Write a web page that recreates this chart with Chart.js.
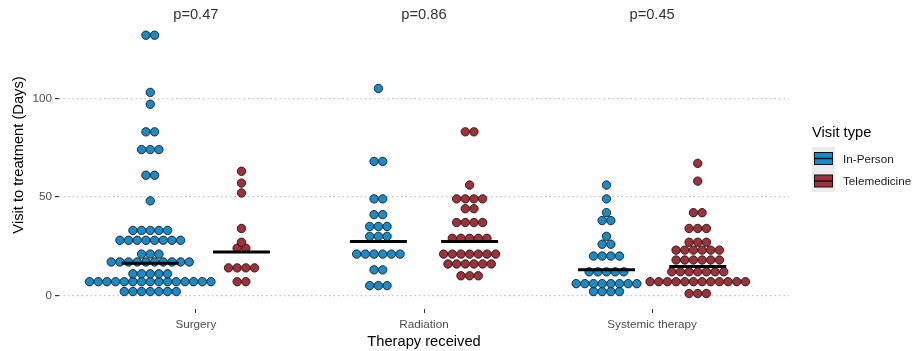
<!DOCTYPE html>
<html>
<head>
<meta charset="utf-8">
<script src="https://cdn.jsdelivr.net/npm/chart.js@4.4.0/dist/chart.umd.min.js"></script>
<style>
  html, body { margin: 0; padding: 0; background: #fff; }
</style>
</head>
<body>
<canvas id="chart" width="917" height="351"></canvas>
<script>
const categories = ['Surgery', 'Radiation', 'Systemic therapy'];
const visitTypes = ['In-Person', 'Telemedicine'];
const pLabels = ['p=0.47', 'p=0.86', 'p=0.45'];
const yTicks = [0, 50, 100];

// days from visit to treatment, one entry per patient
const surgeryInPerson = [132, 132, 103, 97, 83, 83, 74, 74, 74, 61, 61, 48,
  33, 33, 33, 33, 33,
  28, 28, 28, 28, 28, 28, 28, 28,
  21, 21, 21,
  17, 17, 17, 17, 17, 17, 17, 17, 17, 17,
  11, 11, 11, 11, 11,
  7, 7, 7, 7, 7, 7, 7, 7, 7, 7, 7, 7, 7, 7, 7,
  2, 2, 2, 2, 2, 2, 2];
const surgeryTele = [63, 57, 52, 34, 27, 24, 24, 14, 14, 14, 14, 7, 7];
const radiationInPerson = [105, 68, 68, 49, 49, 41, 41, 35, 35, 35, 30, 30, 30,
  21, 21, 21, 21, 21, 21, 13, 13, 5, 5, 5];
const radiationTele = [83, 83, 56, 49, 49, 49, 49, 44, 44, 37, 37, 37, 37,
  29, 29, 29, 29, 29,
  21, 21, 21, 21, 21, 21, 21,
  16, 16, 16, 16, 16, 16,
  10, 10, 10];
const systemicInPerson = [56, 49, 42, 38, 38, 30, 26, 26, 20, 20, 20, 20,
  12, 12, 12, 12, 12,
  6, 6, 6, 6, 6, 6, 6, 6,
  2, 2, 2, 2];
const systemicTele = [67, 58, 42, 42, 34, 34, 34, 27, 27, 27,
  23, 23, 23, 23, 23, 23,
  18, 18, 18, 18, 18, 18,
  12, 12, 12, 12, 12, 12, 12,
  7, 7, 7, 7, 7, 7, 7, 7, 7, 7, 7, 7,
  1, 1, 1];

const inPersonMedians = [16.3, 27.4, 13];
const teleMedians = [22, 27.4, 14.7];

const BLUE = '#1a8bc9';
const RED = '#a0313a';
const dodge = 0.2;      // x-units between category centre and group centre
const dotStep = 0.038;  // x-units between neighbouring dots in a row
const barHalf = 0.125;  // half width of the median bar
const FONT = '"Liberation Sans", Arial, sans-serif';

Chart.defaults.font.family = FONT;

// centre-stacked dot rows, one row per distinct value
function swarm(values, center) {
  const counts = {};
  values.forEach(v => { counts[v] = (counts[v] || 0) + 1; });
  const pts = [];
  Object.keys(counts).forEach(k => {
    const n = counts[k];
    for (let i = 0; i < n; i++) {
      pts.push({ x: center + (i - (n - 1) / 2) * dotStep, y: Number(k) });
    }
  });
  return pts;
}

function medianBars(medians, shift) {
  const pts = [];
  medians.forEach((m, i) => {
    const c = i + 1 + shift;
    pts.push({ x: c - barHalf, y: m }, { x: c + barHalf, y: m }, { x: c + barHalf + 0.01, y: null });
  });
  return pts;
}

const inPersonDots = [].concat(
  swarm(surgeryInPerson, 1 - dodge),
  swarm(radiationInPerson, 2 - dodge),
  swarm(systemicInPerson, 3 - dodge));
const teleDots = [].concat(
  swarm(surgeryTele, 1 + dodge),
  swarm(radiationTele, 2 + dodge),
  swarm(systemicTele, 3 + dodge));

const extras = {
  id: 'extras',
  afterDraw(chart) {
    const { ctx, scales: { x, y } } = chart;
    ctx.save();
    // p values above each category
    ctx.fillStyle = '#333';
    ctx.font = '14.7px ' + FONT;
    ctx.textAlign = 'center';
    ctx.textBaseline = 'middle';
    pLabels.forEach((t, i) => ctx.fillText(t, x.getPixelForValue(i + 1), y.getPixelForValue(142.2)));

    // legend
    const lx = 812;
    ctx.textAlign = 'left';
    ctx.fillStyle = '#000';
    ctx.fillText('Visit type', lx, 133);
    ctx.fillStyle = '#ececec';
    ctx.fillRect(lx, 147, 23, 45);
    ctx.font = '11.7px ' + FONT;
    [BLUE, RED].forEach((col, i) => {
      const cy = 158.5 + i * 22.5;
      ctx.fillStyle = col;
      ctx.fillRect(lx + 2.5, cy - 6, 18, 12);
      ctx.strokeStyle = '#111';
      ctx.lineWidth = 1;
      ctx.strokeRect(lx + 2.5, cy - 6, 18, 12);
      ctx.lineWidth = 1.5;
      ctx.beginPath();
      ctx.moveTo(lx + 2.5, cy);
      ctx.lineTo(lx + 20.5, cy);
      ctx.stroke();
      ctx.fillStyle = '#1a1a1a';
      ctx.fillText(visitTypes[i], lx + 31, cy + 1);
    });
    ctx.restore();
  }
};

new Chart(document.getElementById('chart'), {
  type: 'scatter',
  data: {
    datasets: [
      {
        type: 'line', label: 'median ' + visitTypes[0], data: medianBars(inPersonMedians, -dodge),
        borderColor: '#000', borderWidth: 3, pointRadius: 0, spanGaps: false, order: 0
      },
      {
        type: 'line', label: 'median ' + visitTypes[1], data: medianBars(teleMedians, dodge),
        borderColor: '#000', borderWidth: 3, pointRadius: 0, spanGaps: false, order: 0
      },
      {
        label: visitTypes[0], data: inPersonDots, backgroundColor: BLUE,
        borderColor: '#1a1a1a', borderWidth: 0.9, pointRadius: 4.2, order: 1
      },
      {
        label: visitTypes[1], data: teleDots, backgroundColor: RED,
        borderColor: '#1a1a1a', borderWidth: 0.9, pointRadius: 4.2, order: 1
      }
    ]
  },
  options: {
    responsive: false,
    animation: false,
    devicePixelRatio: 1,
    layout: { autoPadding: false, padding: { left: 0, right: 128, top: 1, bottom: 0 } },
    plugins: { legend: { display: false }, tooltip: { enabled: false } },
    scales: {
      x: {
        type: 'linear', min: 0.4, max: 3.6,
        afterBuildTicks: s => { s.ticks = categories.map((c, i) => ({ value: i + 1 })); },
        afterFit: s => { s.height = 42; s.paddingLeft = 0; s.paddingRight = 0; },
        ticks: {
          autoSkip: false, maxRotation: 0, padding: 5,
          color: '#4d4d4d', font: { size: 11.7 },
          callback: v => categories[v - 1]
        },
        grid: { drawOnChartArea: false, drawTicks: true, tickLength: 4, tickColor: '#333' },
        border: { display: false },
        title: { display: true, text: 'Therapy received', color: '#000', font: { size: 14.7 }, padding: { top: 0, bottom: 0 } }
      },
      y: {
        type: 'linear', min: -6.85, max: 149.35,
        afterBuildTicks: s => { s.ticks = yTicks.map(v => ({ value: v })); },
        afterFit: s => { s.width = 59; s.paddingTop = 0; s.paddingBottom = 0; },
        ticks: { color: '#4d4d4d', font: { size: 11.7 }, padding: 3 },
        grid: { color: '#c2c2c2', lineWidth: 1.2, tickLength: 4, tickColor: '#333', tickBorderDash: [] },
        border: { display: false, dash: [1.5, 3] },
        title: { display: true, text: 'Visit to treatment (Days)', color: '#000', font: { size: 14.7 }, padding: { top: 10.5, bottom: 0 } }
      }
    }
  },
  plugins: [extras]
});
</script>
</body>
</html>
